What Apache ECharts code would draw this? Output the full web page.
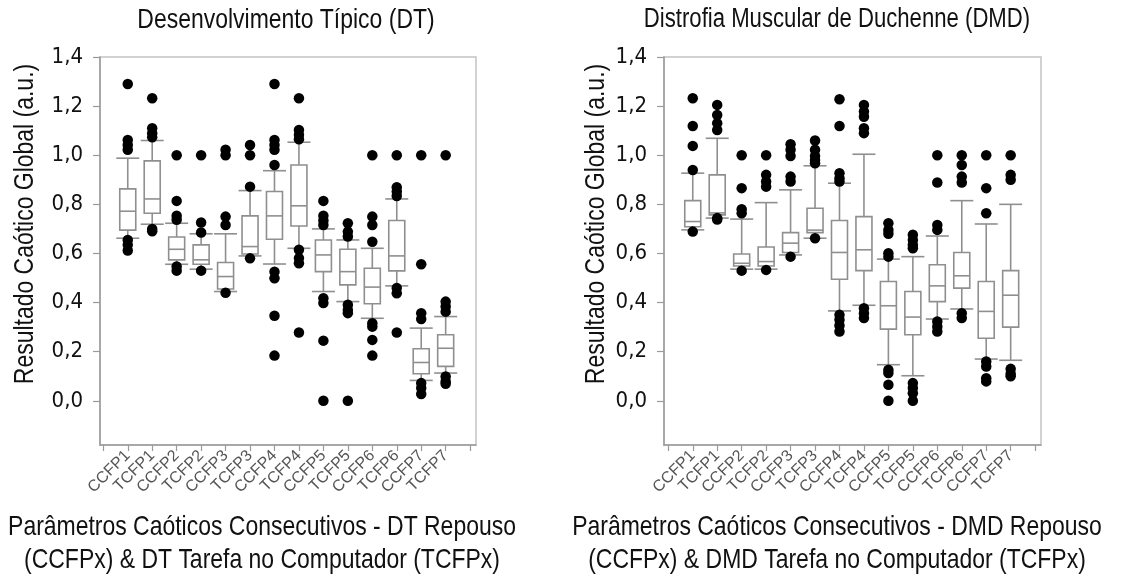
<!DOCTYPE html>
<html>
<head>
<meta charset="utf-8">
<script src="https://cdn.jsdelivr.net/npm/echarts@6/dist/echarts.min.js"></script>
<style>
html,body{margin:0;padding:0;background:#fff;}
#c{width:1130px;height:581px;}
</style>
</head>
<body>
<div id="c"></div>
<script>
// ---------- data ----------
const categories = ['CCFP1','TCFP1','CCFP2','TCFP2','CCFP3','TCFP3','CCFP4','TCFP4','CCFP5','TCFP5','CCFP6','TCFP6','CCFP7','TCFP7'];
const yTicks = [0, 0.2, 0.4, 0.6, 0.8, 1.0, 1.2, 1.4];
const yTickLabels = ['0,0','0,2','0,4','0,6','0,8','1,0','1,2','1,4'];

// [lower whisker, Q1, median, Q3, upper whisker]
const dtBoxes = [
  [0.662, 0.695, 0.772, 0.863, 0.988],
  [0.719, 0.764, 0.822, 0.977, 1.060],
  [0.556, 0.574, 0.617, 0.667, 0.723],
  [0.536, 0.556, 0.574, 0.635, 0.680],
  [0.445, 0.455, 0.506, 0.563, 0.680],
  [0.590, 0.598, 0.628, 0.753, 0.856],
  [0.557, 0.658, 0.753, 0.852, 0.937],
  [0.621, 0.712, 0.794, 0.960, 1.053],
  [0.445, 0.526, 0.594, 0.655, 0.700],
  [0.404, 0.472, 0.526, 0.617, 0.655],
  [0.336, 0.395, 0.463, 0.540, 0.621],
  [0.468, 0.529, 0.590, 0.734, 0.822],
  [0.083, 0.110, 0.156, 0.212, 0.296],
  [0.113, 0.140, 0.214, 0.269, 0.343]
];
const dtOutliers = [
  [1.290, 1.062, 1.042, 1.022, 0.655, 0.635, 0.612],
  [1.232, 1.110, 1.090, 1.073, 0.700, 0.690],
  [1.000, 0.814, 0.754, 0.737, 0.547, 0.530],
  [1.000, 0.726, 0.685, 0.530],
  [1.022, 1.000, 0.750, 0.716, 0.440],
  [1.042, 1.000, 0.872, 0.580],
  [1.290, 1.062, 1.042, 1.022, 0.960, 0.526, 0.499, 0.346, 0.184],
  [1.232, 1.103, 1.083, 1.065, 0.615, 0.581, 0.560, 0.278],
  [0.814, 0.754, 0.734, 0.716, 0.418, 0.398, 0.245, 0.000],
  [0.723, 0.689, 0.669, 0.391, 0.370, 0.357, 0.000],
  [1.000, 0.750, 0.716, 0.648, 0.316, 0.302, 0.248, 0.184],
  [1.000, 0.870, 0.852, 0.834, 0.459, 0.438, 0.278],
  [1.000, 0.556, 0.357, 0.333, 0.072, 0.052, 0.028],
  [1.000, 0.404, 0.384, 0.363, 0.099, 0.079, 0.069]
];

const dmdBoxes = [
  [0.696, 0.709, 0.730, 0.815, 0.927],
  [0.744, 0.757, 0.765, 0.920, 1.069],
  [0.536, 0.549, 0.560, 0.598, 0.740],
  [0.536, 0.549, 0.567, 0.626, 0.807],
  [0.594, 0.604, 0.642, 0.685, 0.859],
  [0.662, 0.685, 0.695, 0.784, 0.957],
  [0.366, 0.495, 0.604, 0.734, 0.886],
  [0.389, 0.530, 0.615, 0.750, 1.004],
  [0.147, 0.292, 0.387, 0.486, 0.577],
  [0.102, 0.269, 0.341, 0.445, 0.587],
  [0.333, 0.404, 0.468, 0.554, 0.671],
  [0.374, 0.459, 0.509, 0.604, 0.815],
  [0.170, 0.255, 0.364, 0.486, 0.720],
  [0.165, 0.300, 0.430, 0.530, 0.800]
];
const dmdOutliers = [
  [1.232, 1.119, 1.038, 0.940, 0.689],
  [1.205, 1.164, 1.130, 1.103, 0.744, 0.738],
  [1.000, 0.866, 0.780, 0.764, 0.530],
  [1.000, 0.920, 0.893, 0.872, 0.533],
  [1.045, 1.022, 0.997, 0.913, 0.893, 0.587],
  [1.060, 1.022, 0.997, 0.981, 0.967, 0.662],
  [1.228, 1.119, 0.927, 0.906, 0.893, 0.350, 0.330, 0.307, 0.282],
  [1.205, 1.178, 1.157, 1.110, 1.090, 0.377, 0.357, 0.337],
  [0.723, 0.696, 0.680, 0.601, 0.587, 0.126, 0.113, 0.065, 0.000],
  [0.676, 0.655, 0.635, 0.621, 0.072, 0.052, 0.031, 0.000],
  [1.000, 0.889, 0.716, 0.696, 0.323, 0.302, 0.282],
  [1.000, 0.960, 0.913, 0.889, 0.357, 0.337],
  [1.000, 0.866, 0.764, 0.160, 0.140, 0.092, 0.079],
  [1.000, 0.920, 0.900, 0.130, 0.110, 0.100]
];

const titles = ['Desenvolvimento Típico (DT)', 'Distrofia Muscular de Duchenne (DMD)'];
const yName = 'Resultado Caótico Global (a.u.)';
const xNames = [
  ['Parâmetros Caóticos Consecutivos - DT Repouso', '(CCFPx) & DT Tarefa no Computador (TCFPx)'],
  ['Parâmetros Caóticos Consecutivos - DMD Repouso', '(CCFPx) & DMD Tarefa no Computador (TCFPx)']
];

// ---------- chart ----------
const SANS = "'Liberation Sans', Arial, sans-serif";
const COND = "'DejaVu Sans Condensed', 'Liberation Sans', sans-serif";
const NARROW = 0.82;
const BOXC = '#8f8f8f';
const xTickVals = [];
for (let i = 0; i <= categories.length + 1; i++) xTickVals.push(i);
const xLabelVals = categories.map((c, i) => i + 1);

function toBoxData(boxes) {
  return boxes.map((b, i) => [i + 1].concat(b));
}
function toOutData(outs) {
  const res = [];
  outs.forEach((arr, i) => arr.forEach(v => res.push([i + 1, v])));
  return res;
}

function renderBox(params, api) {
  const x = api.value(0);
  const lo = api.coord([x, api.value(1)]);
  const q1 = api.coord([x, api.value(2)]);
  const md = api.coord([x, api.value(3)]);
  const q3 = api.coord([x, api.value(4)]);
  const hi = api.coord([x, api.value(5)]);
  const cx = lo[0];
  const bw = 8, cw = 11.5;
  const st = {stroke: BOXC, lineWidth: 1.6, fill: null};
  return {
    type: 'group',
    children: [
      {type: 'line', shape: {x1: cx, y1: hi[1], x2: cx, y2: q3[1]}, style: st},
      {type: 'line', shape: {x1: cx, y1: q1[1], x2: cx, y2: lo[1]}, style: st},
      {type: 'line', shape: {x1: cx - cw, y1: hi[1], x2: cx + cw, y2: hi[1]}, style: st},
      {type: 'line', shape: {x1: cx - cw, y1: lo[1], x2: cx + cw, y2: lo[1]}, style: st},
      {type: 'rect', shape: {x: cx - bw, y: q3[1], width: 2 * bw, height: q1[1] - q3[1]}, style: {stroke: BOXC, lineWidth: 1.6, fill: '#fff'}},
      {type: 'line', shape: {x1: cx - bw, y1: md[1], x2: cx + bw, y2: md[1]}, style: st}
    ]
  };
}

function xAxisOpt(gi, min, max) {
  return {
    type: 'value', gridIndex: gi, min: min, max: max,
    axisLine: {show: true, onZero: false, lineStyle: {color: '#9a9a9a', width: 1.5}},
    axisTick: {show: true, customValues: xTickVals, length: 6, lineStyle: {color: '#9a9a9a', width: 1.2}},
    axisLabel: {
      customValues: xLabelVals, rotate: 45, margin: 8,
      formatter: v => categories[Math.round(v) - 1] || '',
      fontFamily: SANS, fontSize: 16, color: '#555'
    },
    splitLine: {show: false}
  };
}
function yAxisOpt(gi) {
  return {
    type: 'value', gridIndex: gi, min: -0.18, max: 1.4,
    axisLine: {show: true, onZero: false, lineStyle: {color: '#9a9a9a', width: 1.5}},
    axisTick: {show: true, customValues: yTicks, length: 7, lineStyle: {color: '#9a9a9a', width: 1.2}},
    axisLabel: {
      customValues: yTicks, margin: 17,
      formatter: v => yTickLabels[yTicks.findIndex(t => Math.abs(t - v) < 1e-6)] || '',
      fontFamily: COND, fontSize: 22, color: '#111'
    },
    splitLine: {show: false}
  };
}

function narrowText(text, x, y, size, rot) {
  return {
    type: 'text', x: x, y: y, scaleX: NARROW, rotation: rot || 0,
    style: {text: text, font: size + 'px ' + SANS, fill: '#111', textAlign: 'center', textVerticalAlign: 'middle'}
  };
}

const chart = echarts.init(document.getElementById('c'), null, {renderer: 'canvas'});
chart.setOption({
  animation: false,
  backgroundColor: '#fff',
  grid: [
    {left: 100, top: 57, width: 376, height: 388, show: true, borderColor: '#c4c4c4', borderWidth: 1.5, containLabel: false},
    {left: 664, top: 57, width: 377, height: 388, show: true, borderColor: '#c4c4c4', borderWidth: 1.5, containLabel: false}
  ],
  xAxis: [xAxisOpt(0, -0.135, 15.24), xAxisOpt(1, -0.176, 15.24)],
  yAxis: [yAxisOpt(0), yAxisOpt(1)],
  graphic: [
    narrowText(titles[0], 286, 20, 28),
    narrowText(titles[1], 837, 20, 27),
    narrowText(xNames[0][0], 262, 527, 28),
    narrowText(xNames[0][1], 262, 560, 28),
    narrowText(xNames[1][0], 837, 527, 28),
    narrowText(xNames[1][1], 837, 560, 28),
    {type: 'text', x: 25, y: 224, scaleX: NARROW, rotation: Math.PI / 2,
      style: {text: yName, font: '28px ' + SANS, fill: '#111', textAlign: 'center', textVerticalAlign: 'middle'}},
    {type: 'text', x: 596, y: 224, scaleX: NARROW, rotation: Math.PI / 2,
      style: {text: yName, font: '28px ' + SANS, fill: '#111', textAlign: 'center', textVerticalAlign: 'middle'}}
  ],
  series: [
    {type: 'custom', xAxisIndex: 0, yAxisIndex: 0, renderItem: renderBox, data: toBoxData(dtBoxes), z: 2, clip: false},
    {type: 'scatter', xAxisIndex: 0, yAxisIndex: 0, data: toOutData(dtOutliers), symbol: 'circle', symbolSize: 10.5, itemStyle: {color: '#000', opacity: 1}, z: 3},
    {type: 'custom', xAxisIndex: 1, yAxisIndex: 1, renderItem: renderBox, data: toBoxData(dmdBoxes), z: 2, clip: false},
    {type: 'scatter', xAxisIndex: 1, yAxisIndex: 1, data: toOutData(dmdOutliers), symbol: 'circle', symbolSize: 10.5, itemStyle: {color: '#000', opacity: 1}, z: 3}
  ]
});
</script>
</body>
</html>
